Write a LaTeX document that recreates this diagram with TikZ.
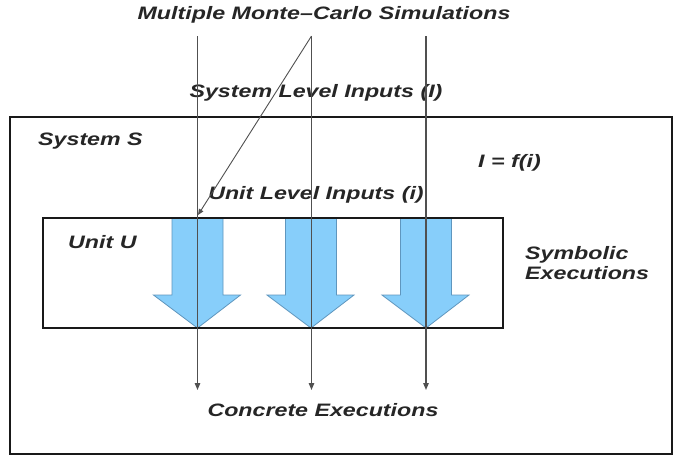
\documentclass[tikz,border=0pt]{standalone}
\usepackage{fontspec}
\usetikzlibrary{arrows.meta}
\newfontfamily\lblfont[FakeStretch=1.29]{Liberation Sans}
\definecolor{flowblue}{RGB}{135,206,250}
\definecolor{flowedge}{RGB}{95,150,190}
\definecolor{wire}{RGB}{80,80,80}
\begin{document}
\begin{tikzpicture}[x=1pt,y=-1pt,
  lbl/.style={font=\lblfont\fontsize{18}{20}\selectfont\bfseries\itshape, inner sep=0pt, text=black!85},
  frame/.style={draw=black!90, line width=2.2pt},
  flow/.style={fill=flowblue, draw=flowedge, line width=0.8pt},
  wireline/.style={draw=wire, line width=1.3pt, -{Triangle[length=7pt,width=5.5pt]}},
  feed/.style={draw=wire, line width=0.9pt, -{Triangle[length=6pt,width=5pt]}}]
\useasboundingbox (0,0) rectangle (677,456);
\fill[white] (0,0) rectangle (677,456);

% system and unit frames
\draw[frame] (10,117) rectangle (672,454);
% block arrows for the symbolic executions
\foreach \c/\n in {197.5/a,311/b,426/c}{
  \draw[flow] (\c-25.5,218) -- (\c-25.5,295) -- (\c-44,295) -- (\c,328)
     -- (\c+43,295) -- (\c+25.5,295) -- (\c+25.5,218) -- cycle;
}
\draw[frame] (43,218) rectangle (503,328);

% labels
\node[lbl] (title) at (324,15) {Multiple Monte–Carlo Simulations};
\node[lbl] (sysin) at (316,93) {System Level Inputs (I)};
\node[lbl, anchor=west] (sys) at (38,141) {System S};
\node[lbl, anchor=west] (rel) at (478,163) {I = f(i)};
\node[lbl] (unitin) at (316,195) {Unit Level Inputs (i)};
\node[lbl, anchor=west] (unit) at (68,242) {Unit U};
\node[lbl, anchor=west, align=left] (sym) at (525,263) {Symbolic\\Executions};
\node[lbl] (conc) at (323,410) {Concrete Executions};

% simulation runs
\coordinate (s1) at (197.5,36);
\coordinate (s2) at (311.5,36);
\coordinate (s3) at (426,36);
\coordinate (e1) at (197.5,390);
\coordinate (e2) at (311.5,390);
\coordinate (e3) at (426,390);
\coordinate (hit) at (198,215);
\draw[wireline] (s1) -- (e1);
\draw[wireline] (s2) -- (e2);
\draw[wireline] (s3) -- (e3);
\draw[feed] (s2) -- (hit);
\end{tikzpicture}
\end{document}
